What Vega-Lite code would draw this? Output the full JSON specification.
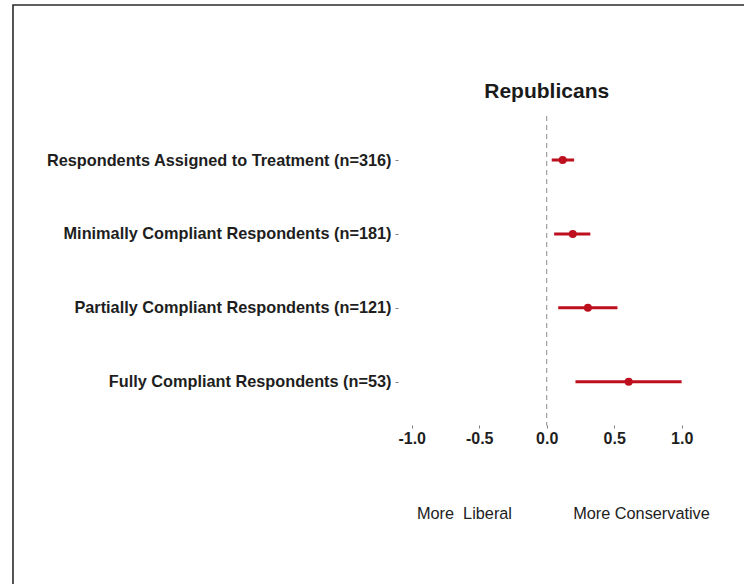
{
  "$schema": "https://vega.github.io/schema/vega-lite/v6.json",
  "width": 760,
  "height": 600,
  "autosize": {"type": "none"},
  "padding": {"left": 13, "top": 5, "right": -29, "bottom": -21},
  "background": "white",
  "config": {
    "view": {"stroke": "#2b2b2b", "strokeWidth": 1.6},
    "font": "Liberation Sans"
  },
  "data": {
    "values": [
      {"group": "Respondents Assigned to Treatment (n=316)", "estimate": 0.118, "lower": 0.037, "upper": 0.203},
      {"group": "Minimally Compliant Respondents (n=181)", "estimate": 0.193, "lower": 0.055, "upper": 0.323},
      {"group": "Partially Compliant Respondents (n=121)", "estimate": 0.305, "lower": 0.085, "upper": 0.524},
      {"group": "Fully Compliant Respondents (n=53)", "estimate": 0.607, "lower": 0.213, "upper": 0.999}
    ]
  },
  "layer": [
    {
      "data": {"values": [{}]},
      "mark": {"type": "rule", "strokeDash": [5, 4], "color": "#8c8c8c", "strokeWidth": 1, "yOffset": -44, "y2Offset": 44},
      "encoding": {
        "x": {"datum": 0, "type": "quantitative"},
        "y": {"datum": "Respondents Assigned to Treatment (n=316)", "type": "nominal"},
        "y2": {"datum": "Fully Compliant Respondents (n=53)"}
      }
    },
    {
      "mark": {"type": "rule", "strokeWidth": 3, "color": "#BE0F1E"},
      "encoding": {
        "y": {
          "field": "group",
          "type": "nominal",
          "sort": null,
          "scale": {
            "type": "point",
            "domain": [
              "Respondents Assigned to Treatment (n=316)",
              "Minimally Compliant Respondents (n=181)",
              "Partially Compliant Respondents (n=121)",
              "Fully Compliant Respondents (n=53)"
            ],
            "padding": 0,
            "range": [155, 376.7]
          },
          "axis": {
            "orient": "left",
            "offset": -385,
            "domain": false,
            "grid": false,
            "tickSize": 3,
            "tickColor": "#7f7f7f",
            "labelFontSize": 16.3,
            "labelFontWeight": "bold",
            "labelColor": "#1e1e1e",
            "labelPadding": 4,
            "labelLimit": 0,
            "title": null
          }
        },
        "x": {
          "field": "lower",
          "type": "quantitative",
          "scale": {"domain": [-3.953, 1.676], "nice": false, "zero": false},
          "axis": {
            "orient": "bottom",
            "offset": -180,
            "values": [-1, -0.5, 0, 0.5, 1],
            "domain": false,
            "grid": false,
            "tickSize": 3,
            "tickColor": "#7f7f7f",
            "labelFontSize": 16,
            "labelFontWeight": "bold",
            "labelColor": "#1e1e1e",
            "labelPadding": 2,
            "labelExpr": "replace(format(datum.value, '.1f'), '\u2212', '-')",
            "title": null
          }
        },
        "x2": {"field": "upper"}
      }
    },
    {
      "mark": {"type": "point", "filled": true, "size": 64, "opacity": 1, "color": "#BE0F1E"},
      "encoding": {
        "x": {"field": "estimate", "type": "quantitative"},
        "y": {"field": "group", "type": "nominal", "sort": null}
      }
    },
    {
      "data": {"values": [{}]},
      "mark": {"type": "text", "text": "Republicans", "fontSize": 21, "fontWeight": "bold", "color": "#1a1a1a", "align": "center", "baseline": "alphabetic", "dy": -62},
      "encoding": {
        "x": {"datum": 0, "type": "quantitative"},
        "y": {"datum": "Respondents Assigned to Treatment (n=316)", "type": "nominal"}
      }
    },
    {
      "data": {"values": [{}]},
      "mark": {"type": "text", "text": "More\u00a0 Liberal", "fontSize": 16.3, "color": "#222222", "align": "center", "baseline": "alphabetic", "dy": 137},
      "encoding": {
        "x": {"datum": -0.609, "type": "quantitative"},
        "y": {"datum": "Fully Compliant Respondents (n=53)", "type": "nominal"}
      }
    },
    {
      "data": {"values": [{}]},
      "mark": {"type": "text", "text": "More Conservative", "fontSize": 16.3, "color": "#222222", "align": "center", "baseline": "alphabetic", "dy": 137},
      "encoding": {
        "x": {"datum": 0.702, "type": "quantitative"},
        "y": {"datum": "Fully Compliant Respondents (n=53)", "type": "nominal"}
      }
    }
  ]
}
